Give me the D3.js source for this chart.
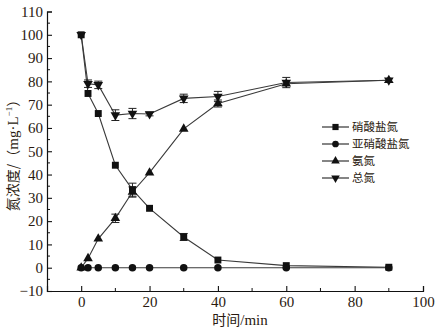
<!DOCTYPE html>
<html><head><meta charset="utf-8">
<script src="https://cdn.jsdelivr.net/npm/d3@7"></script>
<style>
body{margin:0;background:#fff;}
svg{display:block;}
</style></head>
<body>
<svg id="chart" width="441" height="328"></svg>
<script>
// Sampling times (min)
const times = [0, 2, 5, 10, 15, 20, 30, 40, 60, 90];
// Series names (legend order)
const seriesNames = ["硝酸盐氮", "亚硝酸盐氮", "氨氮", "总氮"];
// Concentrations (mg·L⁻¹)
const nitrate  = [100, 74.8, 66.2, 44, 33.5, 25.5, 13.2, 3.3, 0.9, 0.2];
const nitrite  = [0, 0, 0, 0, 0, 0, 0, 0, 0, 0];
const ammonia  = [0, 4, 12.4, 21.2, 32.5, 40.8, 59.6, 70.5, 79, 80.5];
const totalN   = [100, 79, 78.5, 65.5, 66.2, 66, 72.7, 73.5, 79.5, 80.5];
// Error bar half-widths
const nitrateErr = [0, 0, 0, 0, 2.8, 0, 1.5, 0, 0, 0];
const nitriteErr = [0, 0, 0, 0, 0, 0, 0, 0, 0, 0];
const ammoniaErr = [0, 0, 0, 1.8, 2.2, 0, 0, 1.5, 0, 0];
const totalErr   = [0, 1.6, 1.6, 2.3, 2.2, 0.8, 1.8, 2.2, 2.2, 0];
// Axis ticks
const xTicks = [0, 20, 40, 60, 80, 100];
const yTicks = [-10, 0, 10, 20, 30, 40, 50, 60, 70, 80, 90, 100, 110];

const svg = d3.select("#chart");
const x = d3.scaleLinear().domain([-10, 100]).range([47, 423]);
const y = d3.scaleLinear().domain([-10, 110]).range([291, 11.5]);

const serif = "'Liberation Serif','Times New Roman',serif";
const cjk = "'Noto Sans CJK SC','Noto Sans CJK JP',sans-serif";

const series = [
  {name: seriesNames[0], values: nitrate, err: nitrateErr, sym: d3.symbolSquare, size: 48, rot: 0},
  {name: seriesNames[1], values: nitrite, err: nitriteErr, sym: d3.symbolCircle, size: 44, rot: 0},
  {name: seriesNames[2], values: ammonia, err: ammoniaErr, sym: d3.symbolTriangle, size: 40, rot: 0},
  {name: seriesNames[3], values: totalN, err: totalErr, sym: d3.symbolTriangle, size: 40, rot: 180}
];

// Axes (ticks point inward)
const xAxis = d3.axisBottom(x).tickValues(xTicks).tickSize(-5).tickPadding(5).tickFormat(d3.format("d"));
const yAxis = d3.axisLeft(y).tickValues(yTicks).tickSize(-5).tickPadding(4).tickFormat(d => d < 0 ? "\u2212" + Math.abs(d) : d);

const gx = svg.append("g").attr("transform", `translate(0,${y(-10)})`).call(xAxis);
const gy = svg.append("g").attr("transform", `translate(${x(-10)},0)`).call(yAxis);
[gx, gy].forEach(g => {
  g.select(".domain").attr("stroke", "#111").attr("stroke-width", 1.2);
  g.selectAll(".tick line").attr("stroke", "#111").attr("stroke-width", 1.1);
  g.selectAll(".tick text").attr("font-family", serif).attr("font-size", 15).attr("fill", "#2a1a10");
});
// Minor ticks
svg.append("g").selectAll("line").data(d3.range(10, 100, 20)).join("line")
  .attr("x1", d => x(d)).attr("x2", d => x(d))
  .attr("y1", y(-10)).attr("y2", y(-10) - 3)
  .attr("stroke", "#111").attr("stroke-width", 1);
svg.append("g").selectAll("line").data(d3.range(-5, 110, 10)).join("line")
  .attr("x1", x(-10)).attr("x2", x(-10) + 3)
  .attr("y1", d => y(d)).attr("y2", d => y(d))
  .attr("stroke", "#111").attr("stroke-width", 1);

// Lines
const line = d3.line().x((d, i) => x(times[i])).y(d => y(d));
series.forEach(s => {
  svg.append("path").datum(s.values).attr("d", line)
    .attr("fill", "none").attr("stroke", "#3a3a3a").attr("stroke-width", 1.1);
});

// Error bars
series.forEach(s => {
  const g = svg.append("g").attr("stroke", "#222").attr("stroke-width", 1);
  s.values.forEach((v, i) => {
    const e = s.err[i];
    if (!e) return;
    const cx = x(times[i]);
    g.append("line").attr("x1", cx).attr("x2", cx).attr("y1", y(v - e)).attr("y2", y(v + e));
    g.append("line").attr("x1", cx - 4).attr("x2", cx + 4).attr("y1", y(v - e)).attr("y2", y(v - e));
    g.append("line").attr("x1", cx - 4).attr("x2", cx + 4).attr("y1", y(v + e)).attr("y2", y(v + e));
  });
});

// Markers
series.forEach(s => {
  const sym = d3.symbol().type(s.sym).size(s.size);
  svg.append("g").selectAll("path").data(s.values).join("path")
    .attr("d", sym)
    .attr("transform", (d, i) => `translate(${x(times[i])},${y(d)}) rotate(${s.rot})`)
    .attr("fill", "#111");
});

// Legend
const lg = svg.append("g");
const rowY = [127, 144, 161, 178];
series.forEach((s, i) => {
  const yy = rowY[i];
  lg.append("line").attr("x1", 322).attr("x2", 349).attr("y1", yy).attr("y2", yy)
    .attr("stroke", "#222").attr("stroke-width", 1.1);
  lg.append("path").attr("d", d3.symbol().type(s.sym).size(s.size * 0.8)())
    .attr("transform", `translate(335.5,${yy}) rotate(${s.rot})`).attr("fill", "#111");
  lg.append("text").attr("x", 352).attr("y", yy).attr("dy", "0.36em")
    .attr("font-family", cjk).attr("font-size", 11.5).attr("fill", "#2a1a10").text(s.name);
});

// Axis titles
const xt = svg.append("text").attr("x", 240).attr("y", 325).attr("text-anchor", "middle")
  .attr("font-size", 14).attr("fill", "#2a1a10");
xt.append("tspan").attr("font-family", cjk).text("时间");
xt.append("tspan").attr("font-family", serif).attr("font-size", 15).text("/min");

const yt = svg.append("text").attr("transform", "translate(18,152) rotate(-90)")
  .attr("text-anchor", "middle").attr("font-size", 14).attr("fill", "#2a1a10");
yt.append("tspan").attr("font-family", cjk).text("氮浓度/（");
yt.append("tspan").attr("font-family", serif).attr("font-size", 15).text("mg·L");
yt.append("tspan").attr("font-family", serif).attr("font-size", 9).attr("dy", -6).text("−1");
yt.append("tspan").attr("font-family", cjk).attr("dy", 6).text("）");
</script>
</body></html>
